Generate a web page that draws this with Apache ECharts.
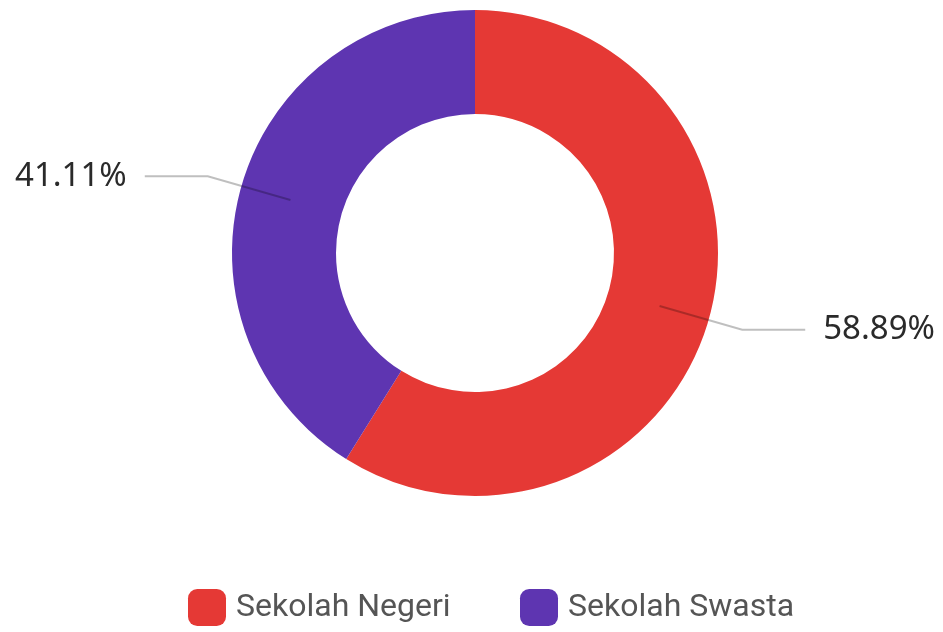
<!DOCTYPE html>
<html>
<head>
<meta charset="utf-8">
<script src="https://cdn.jsdelivr.net/npm/echarts@6/dist/echarts.min.js"></script>
<style>
  html, body { margin: 0; padding: 0; background: #ffffff; }
  #main { width: 943px; height: 632px; }
</style>
</head>
<body>
<div id="main"></div>
<script>
var categories = ['Sekolah Negeri', 'Sekolah Swasta']
var percents = [58.89, 41.11]
var colors = ['#E53935', '#5E35B1']

var pieData = categories.map(function(name, i) {
  return { name: name, value: percents[i], itemStyle: { color: colors[i] } }
})

// one legend block per item so each sits where it does in the picture
var legendLeft = [183, 515]
var legends = categories.map(function(name, i) {
  return {
    data: [name],
    bottom: 1,
    left: legendLeft[i],
    itemWidth: 38,
    itemHeight: 37,
    icon: 'roundRect',
    textStyle: {
      fontFamily: 'Roboto',
      fontSize: 32,
      color: '#555555',
      padding: [0, 0, 0, 5]
    }
  }
})

var chart = echarts.init(document.getElementById('main'))
chart.setOption({
  animation: false,
  legend: legends,
  series: [
    {
      // visible donut
      type: 'pie',
      center: [475, 253],
      radius: [139, 243],
      startAngle: 90,
      data: pieData,
      label: { show: false },
      labelLine: { show: false },
      itemStyle: { borderWidth: 0 },
      silent: true,
      z: 1
    },
    {
      // transparent ring only for the label lines that start inside the slices
      type: 'pie',
      center: [475, 253],
      radius: [0, 192],
      startAngle: 90,
      data: pieData.map(function(d) {
        return { name: d.name, value: d.value, itemStyle: { color: 'rgba(0,0,0,0)' } }
      }),
      label: {
        show: true,
        formatter: function(p) { return p.value.toFixed(2) + '%' },
        fontFamily: 'Noto Sans',
        fontSize: 33,
        color: '#2a2a2a',
        overflow: 'none',
        distanceToLabelLine: 18
      },
      labelLine: {
        show: true,
        length: 86,
        length2: 63,
        lineStyle: { color: 'rgba(0,0,0,0.25)', width: 2 }
      },
      legendHoverLink: false,
      silent: true,
      z: 2
    }
  ]
})
</script>
</body>
</html>
